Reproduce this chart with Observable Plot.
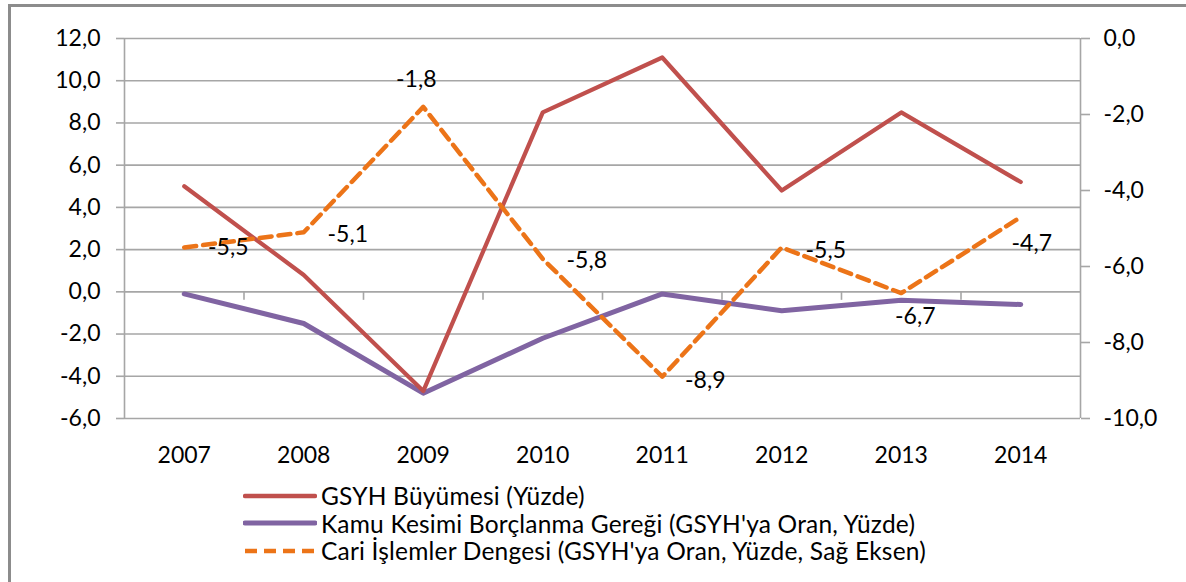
<!DOCTYPE html>
<html>
<head>
<meta charset="utf-8">
<script src="https://cdn.jsdelivr.net/npm/d3@7"></script>
<script src="https://cdn.jsdelivr.net/npm/@observablehq/plot@0.6"></script>
<style>
  html, body { margin: 0; padding: 0; background: #fff; }
  #wrap { position: relative; width: 1186px; height: 582px; overflow: hidden; font-family: Lato, "Open Sans", sans-serif; }
  #wrap .bt { position: absolute; left: 8px; top: 4px; right: 0; height: 3px; background: #8c8c8c; }
  #wrap .bl { position: absolute; left: 8px; top: 4px; bottom: 0; width: 3px; background: #8c8c8c; }
  #chart { position: absolute; left: 0; top: 0; }
  #legend { position: absolute; left: 243px; top: 482px; font-size: 24.5px; letter-spacing: 0.2px; color: #000; }
  #legend .row { display: flex; align-items: center; height: 27.5px; white-space: nowrap; }
  #legend svg { margin-right: 4px; }
</style>
</head>
<body>
<div id="wrap">
  <div class="bt"></div><div class="bl"></div>
  <div id="chart"></div>
  <div id="legend"></div>
</div>
<script>
// ---- data ----
const years = ["2007", "2008", "2009", "2010", "2011", "2012", "2013", "2014"];
const gsyh = [5.0, 0.8, -4.7, 8.5, 11.1, 4.8, 8.5, 5.2];          // GSYH Büyümesi (left axis)
const kamu = [-0.1, -1.5, -4.8, -2.2, -0.1, -0.9, -0.4, -0.6];    // Kamu Kesimi Borçlanma Gereği (left axis)
const cari = [-5.5, -5.1, -1.8, -5.8, -8.9, -5.5, -6.7, -4.7];    // Cari İşlemler Dengesi (right axis)
const leftTicks = [-6, -4, -2, 0, 2, 4, 6, 8, 10, 12];
const rightTicks = [0, -2, -4, -6, -8, -10];
const seriesNames = [
  "GSYH Büyümesi (Yüzde)",
  "Kamu Kesimi Borçlanma Gereği (GSYH'ya Oran, Yüzde)",
  "Cari İşlemler Dengesi (GSYH'ya Oran, Yüzde, Sağ Eksen)"
];

// ---- layout / style (not data) ----
const colors = ["#c0504d", "#8064a2", "#ec7418"];
const labelNudge = [[44, 0], [44, 2], [-7, -27], [44, 2], [43, 4], [44, 3], [14, 24], [11, 27]];
const leftDomain = [-6, 12];
const rightDomain = [-10, 0];
const toLeft = v => leftDomain[0] + (v - rightDomain[0]) * (leftDomain[1] - leftDomain[0]) / (rightDomain[1] - rightDomain[0]);
const fromLeft = v => rightDomain[0] + (v - leftDomain[0]) * (rightDomain[1] - rightDomain[0]) / (leftDomain[1] - leftDomain[0]);
const fmt = v => { const r = Math.round(v * 10) / 10 + 0; return (Object.is(r, -0) ? 0 : r).toFixed(1).replace(".", ","); };
const gray = "#a6a6a6";

const rows = (arr) => arr.map((v, i) => ({i, v}));
const boundaries = d3.range(1, years.length).map(i => i - 0.5);
const tickSymbol = { draw(ctx) { ctx.moveTo(0, 0); ctx.lineTo(0, 8); } };

const marks = [
  Plot.ruleY(leftTicks, {stroke: gray, strokeWidth: 1.6}),
  Plot.ruleX([-0.5, years.length - 0.5], {stroke: gray, strokeWidth: 1.6}),
  Plot.dot(boundaries, {x: d => d, y: () => 0, symbol: tickSymbol, fill: "none", stroke: gray, strokeWidth: 1.6}),
  Plot.axisY({anchor: "left", ticks: leftTicks, tickFormat: fmt, tickSize: 8, tickPadding: 16, stroke: gray, fill: "#000", strokeWidth: 1.6, label: null}),
  Plot.axisY({anchor: "right", ticks: rightTicks.map(toLeft), tickFormat: v => fmt(fromLeft(v)), tickSize: 9, tickPadding: 14, stroke: gray, fill: "#000", strokeWidth: 1.6, label: null}),
  Plot.axisX({ticks: d3.range(years.length), tickFormat: i => years[i], tickSize: 0, tickPadding: 28, fill: "#000", label: null}),
  Plot.line(rows(kamu), {x: "i", y: "v", stroke: colors[1], strokeWidth: 5, strokeLinejoin: "round", strokeLinecap: "round"}),
  Plot.line(rows(gsyh), {x: "i", y: "v", stroke: colors[0], strokeWidth: 4.2, strokeLinejoin: "round", strokeLinecap: "round"}),
  Plot.line(rows(cari), {x: "i", y: d => toLeft(d.v), stroke: colors[2], strokeWidth: 4.5, strokeDasharray: "12,7", strokeLinejoin: "round"}),
  ...rows(cari).map((d, k) => Plot.text([d], {x: "i", y: r => toLeft(r.v), text: r => fmt(r.v), dx: labelNudge[k][0], dy: labelNudge[k][1], lineAnchor: "middle", textAnchor: "middle", fill: "#000"}))
];

const chart = Plot.plot({
  width: 1186,
  height: 480,
  marginTop: 38,
  marginBottom: 62,
  marginLeft: 124,
  marginRight: 106,
  style: {fontFamily: "Lato, 'Open Sans', sans-serif", fontSize: "23px", background: "transparent", color: "#000"},
  x: {type: "linear", domain: [-0.5, years.length - 0.5]},
  y: {type: "linear", domain: leftDomain},
  marks
});
document.getElementById("chart").appendChild(chart);

// ---- legend ----
const legend = document.getElementById("legend");
seriesNames.forEach((name, k) => {
  const row = document.createElement("div");
  row.className = "row";
  const dash = k === 2 ? ' stroke-dasharray="12,7"' : '';
  const cap = k === 2 ? 'butt' : 'round';
  row.innerHTML = `<svg width="74" height="12"><line x1="2" y1="6" x2="72" y2="6" stroke="${colors[k]}" stroke-width="${k === 1 ? 5 : 4.5}" stroke-linecap="${cap}"${dash}/></svg><span>${name}</span>`;
  legend.appendChild(row);
});
</script>
</body>
</html>
